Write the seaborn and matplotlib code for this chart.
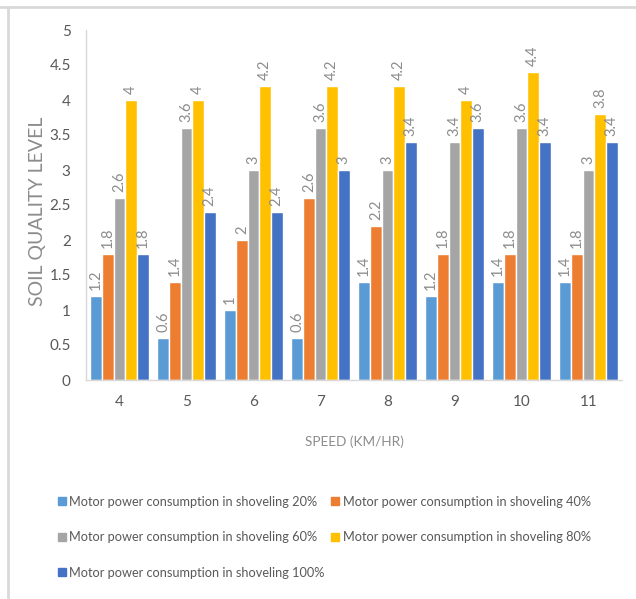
import matplotlib
matplotlib.use("Agg")
import matplotlib.pyplot as plt
from matplotlib.lines import Line2D
import seaborn as sns
import pandas as pd

speeds = ["4", "5", "6", "7", "8", "9", "10", "11"]
series_names = [
    "Motor power consumption in shoveling 20%",
    "Motor power consumption in shoveling 40%",
    "Motor power consumption in shoveling 60%",
    "Motor power consumption in shoveling 80%",
    "Motor power consumption in shoveling 100%",
]
power_20 = [1.2, 0.6, 1.0, 0.6, 1.4, 1.2, 1.4, 1.4]
power_40 = [1.8, 1.4, 2.0, 2.6, 2.2, 1.8, 1.8, 1.8]
power_60 = [2.6, 3.6, 3.0, 3.6, 3.0, 3.4, 3.6, 3.0]
power_80 = [4.0, 4.0, 4.2, 4.2, 4.2, 4.0, 4.4, 3.8]
power_100 = [1.8, 2.4, 2.4, 3.0, 3.4, 3.6, 3.4, 3.4]
y_ticks = [0, 0.5, 1, 1.5, 2, 2.5, 3, 3.5, 4, 4.5, 5]

colors = ["#5B9BD5", "#ED7D31", "#A5A5A5", "#FFC000", "#4472C4"]

sns.set_theme(style="white")
plt.rcParams["font.family"] = ["Lato", "DejaVu Sans"]

rows = []
for name, vals in zip(series_names, [power_20, power_40, power_60, power_80, power_100]):
    for s, v in zip(speeds, vals):
        rows.append({"speed": s, "series": name, "value": v})
df = pd.DataFrame(rows)

fig = plt.figure(figsize=(6.36, 5.99), dpi=100)
ax = fig.add_axes([86 / 636, 1 - 380 / 599, 536 / 636, 350 / 599])

sns.barplot(data=df, x="speed", y="value", hue="series", order=speeds,
            hue_order=series_names, palette=colors, width=0.87,
            saturation=1, errorbar=None, ax=ax, legend=True)

label_color = "#8C8C8C"
for cont in ax.containers:
    for bar in cont:
        h = bar.get_height()
        ax.annotate(f"{h:g}", (bar.get_x() + bar.get_width() / 2, h),
                    xytext=(0, 4), textcoords="offset points",
                    rotation=90, ha="center", va="bottom",
                    fontsize=10.5, color=label_color)

ax.set_ylim(0, 5)
ax.set_xlim(-0.5, len(speeds) - 0.5)
ax.set_yticks(y_ticks)
ax.set_yticklabels([f"{t:g}" for t in y_ticks])
tick_color = "#595959"
ax.tick_params(axis="both", length=0, labelsize=11, colors=tick_color)
ax.tick_params(axis="y", pad=11)
ax.tick_params(axis="x", pad=11)
for side in ["top", "right"]:
    ax.spines[side].set_visible(False)
for side in ["left", "bottom"]:
    ax.spines[side].set_color("#D9D9D9")
    ax.spines[side].set_linewidth(1)

title_color = "#8C8C8C"
ax.set_xlabel("SPEED (KM/HR)", fontsize=9.8, color=title_color, labelpad=19)
ax.set_ylabel("SOIL QUALITY LEVEL", fontsize=14, color=title_color,
              va="center")
ax.yaxis.set_label_coords(-48 / 536, (380 - 211) / 350)

# legend laid out in two columns, filled row by row
ax.get_legend().remove()
order = [0, 2, 4, 1, 3]
handles = [Line2D([], [], marker="s", linestyle="none", markersize=5.5,
                  markerfacecolor=colors[i], markeredgecolor=colors[i])
           for i in order]
labels = [series_names[i] for i in order]
fig.legend(handles, labels, ncol=2, loc="upper left",
           bbox_to_anchor=(45 / 636, 1 - 484 / 599), frameon=False,
           fontsize=9.2, labelcolor=tick_color, handletextpad=0.18,
           handlelength=0.8, columnspacing=0.45, labelspacing=1.85)

# outer frame lines
fig.add_artist(Line2D([0, 1], [1 - 7 / 599, 1 - 7 / 599], color="#D9D9D9",
                      lw=2, transform=fig.transFigure))
fig.add_artist(Line2D([8 / 636, 8 / 636], [0, 1 - 7 / 599], color="#D9D9D9",
                      lw=2, transform=fig.transFigure))

fig.savefig("out.png", dpi=100, facecolor="white")
